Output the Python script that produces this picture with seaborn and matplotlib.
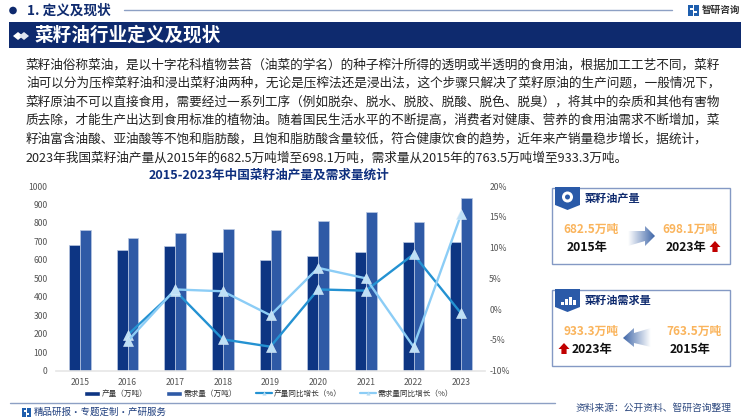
import numpy as np
import pandas as pd
import seaborn as sns
import matplotlib.pyplot as plt
from matplotlib.lines import Line2D
from matplotlib.patches import Circle, Patch, Polygon, Rectangle

# chart data
years = ['2015', '2016', '2017', '2018', '2019', '2020', '2021', '2022', '2023']
production = [682.5, 655, 673, 642, 600, 622, 640, 698, 698.1]
demand = [763.5, 720, 745, 768, 761, 813, 857, 805, 933.3]
production_yoy = [np.nan, -4.2, 3.0, -4.9, -6.1, 3.2, 3.0, 8.9, -0.7]
demand_yoy = [np.nan, -5.2, 3.2, 2.9, -1.0, 6.7, 5.0, -6.1, 15.4]

left_ticks = list(range(0, 1100, 100))
right_ticks = list(range(-10, 25, 5))

body_lines = [
    '菜籽油俗称菜油，是以十字花科植物芸苔（油菜的学名）的种子榨汁所得的透明或半透明的食用油，根据加工工艺不同，菜籽',
    '油可以分为压榨菜籽油和浸出菜籽油两种，无论是压榨法还是浸出法，这个步骤只解决了菜籽原油的生产问题，一般情况下，',
    '菜籽原油不可以直接食用，需要经过一系列工序（例如脱杂、脱水、脱胶、脱酸、脱色、脱臭），将其中的杂质和其他有害物',
    '质去除，才能生产出达到食用标准的植物油。随着国民生活水平的不断提高，消费者对健康、营养的食用油需求不断增加，菜',
    '籽油富含油酸、亚油酸等不饱和脂肪酸，且饱和脂肪酸含量较低，符合健康饮食的趋势，近年来产销量稳步增长，据统计，',
    '2023年我国菜籽油产量从2015年的682.5万吨增至698.1万吨，需求量从2015年的763.5万吨增至933.3万吨。',
]

NAVY = '#0e2a6e'
DARK_BAR = '#0d3583'
LIGHT_BAR = '#2f5aa6'
LINE_PROD = '#2492d2'
LINE_DEMAND = '#8ccdf6'
ORANGE = '#fab45c'
RED = '#c00000'
FRAME = '#8499c4'

sns.set_theme(style='white')
plt.rcParams['font.family'] = ['Noto Sans CJK SC', 'DejaVu Sans']

W, H = 750, 420
fig = plt.figure(figsize=(W / 100, H / 100), dpi=100)

# page overlay in pixel coordinates, everything that is not the chart goes here
page = fig.add_axes([0, 0, 1, 1], zorder=0)
page.set_xlim(0, W)
page.set_ylim(H, 0)
page.axis('off')


def gradient_arrow(points, extent, flip=False):
    # faded arrow: a gradient image clipped to the arrow outline
    shade = np.linspace(0, 1, 64).reshape(1, -1)
    if flip:
        shade = shade[:, ::-1]
    cmap = sns.blend_palette(['#ffffff', '#3f66a8'], as_cmap=True)
    im = page.imshow(shade, extent=extent, cmap=cmap, aspect='auto', zorder=2)
    clip = Polygon(points, closed=True, transform=page.transData, fc='none', ec='none')
    page.add_patch(clip)
    im.set_clip_path(clip)


def logo(x, y, s):
    page.add_patch(Rectangle((x, y), s * 0.45, s, fc='#1f5fae', ec='none'))
    page.add_patch(Rectangle((x + s * 0.55, y), s * 0.45, s, fc='#1f5fae', ec='none'))
    page.add_patch(Rectangle((x + s * 0.18, y + s * 0.25), s * 0.27, s * 0.2, fc='white', ec='none'))
    page.add_patch(Rectangle((x + s * 0.55, y + s * 0.55), s * 0.27, s * 0.2, fc='white', ec='none'))


def badge(x, y):
    page.add_patch(Polygon([(x, y), (x + 25, y), (x + 25, y + 18), (x + 12.5, y + 23), (x, y + 18)],
                           closed=True, fc='#2a5aa8', ec='none', zorder=3))


def red_up(x, y):
    page.add_patch(Polygon([(x, y - 6), (x + 5.5, y), (x + 2.6, y), (x + 2.6, y + 5), (x - 2.6, y + 5), (x - 2.6, y), (x - 5.5, y)],
                           closed=True, fc=RED, ec='none', zorder=3))


# header
page.add_patch(Circle((13, 10.5), 3.8, fc=NAVY, ec='none'))
page.text(27, 11, '1. 定义及现状', fontsize=9.8, fontweight='bold', color=NAVY, va='center')
page.plot([124, 672], [10, 10], color='#8da0c4', lw=1)
logo(688, 5, 11)
page.text(702, 10, '智研咨询', fontsize=6.9, fontweight='bold', color='#333333', va='center')
page.add_patch(Rectangle((9, 22), 732, 26, fc=NAVY, ec='none'))
page.add_patch(Polygon([(13, 36), (18, 32), (23, 36), (18, 40)], closed=True, fc='white', ec='none'))
page.add_patch(Polygon([(19, 36), (24, 32), (29, 36), (24, 40)], closed=True, fc='#dfe5f0', ec='none'))
page.text(35, 35, '菜籽油行业定义及现状', fontsize=13.4, fontweight='bold', color='white', va='center')

# body text
for i, line in enumerate(body_lines):
    page.text(26, 64.7 + i * 18.6, line, fontsize=9.12, color='#222222', va='center')

page.text(268.5, 175, '2015-2023年中国菜籽油产量及需求量统计', fontsize=9.1, fontweight='bold',
          color='#0e2f7e', ha='center', va='center')

# right hand panels
for top in [188, 290]:
    page.add_patch(Rectangle((552, top), 178, 76, fc='white', ec=FRAME, lw=1))
    badge(555, top - 1)
    page.text(585, top + 10, '菜籽油产量' if top == 188 else '菜籽油需求量', fontsize=8, fontweight='bold',
              color=NAVY, va='center')

page.add_patch(Circle((567.5, 197), 5.5, fc='white', ec='none', zorder=4))
page.add_patch(Circle((567.5, 197), 2.5, fc='#2a5aa8', ec='none', zorder=5))
for bx, bh in [(561, 3), (565, 6), (569, 8), (573, 5)]:
    page.add_patch(Rectangle((bx, 305 - bh), 2.6, bh, fc='white', ec='none', zorder=4))

big = dict(fontsize=8.5, color=ORANGE, fontweight='bold', ha='center', va='center')
year_txt = dict(fontsize=8.8, color='#111111', fontweight='bold', ha='center', va='center')
page.text(591, 229, '682.5万吨', **big)
page.text(690, 229, '698.1万吨', **big)
page.text(587, 247, '2015年', **year_txt)
page.text(686, 247, '2023年', **year_txt)
page.text(591, 331, '933.3万吨', **big)
page.text(694, 331, '763.5万吨', **big)
page.text(592, 349, '2023年', **year_txt)
page.text(690, 349, '2015年', **year_txt)
red_up(715, 247)
red_up(564, 349)

gradient_arrow([(628, 231), (645, 231), (645, 226), (655, 236), (645, 246), (645, 241), (628, 246)],
               (628, 655, 246, 226))
gradient_arrow([(651, 328), (634, 333), (634, 328), (623, 338), (634, 347), (634, 343), (651, 347)],
               (623, 651, 347, 328), flip=True)
page.set_xlim(0, W)
page.set_ylim(H, 0)

# footer
page.plot([10, 555], [402.5, 402.5], color='#8da0c4', lw=1)
logo(22, 408, 9)
page.text(34, 412.5, '精品研报·专题定制·产研服务', fontsize=6.8, color='#1f3f7f', va='center')
page.text(576, 408, '资料来源：公开资料、智研咨询整理', fontsize=7, color='#2f4a80', va='center')

# main chart
ax = fig.add_axes([56 / W, 1 - 370.7 / H, (485 - 56) / W, (370.7 - 186) / H], zorder=1)
ax.patch.set_alpha(0)

bars = pd.DataFrame({
    'year': years * 2,
    'value': production + demand,
    'series': ['产量（万吨）'] * len(years) + ['需求量（万吨）'] * len(years),
})
sns.barplot(data=bars, x='year', y='value', hue='series', palette=[DARK_BAR, LIGHT_BAR], width=0.46,
            saturation=1, errorbar=None, legend=False, edgecolor='#b9c8e2', linewidth=0.5, ax=ax)
ax.set_ylim(0, 1000)
ax.set_yticks(left_ticks)
ax.set_xlabel('')
ax.set_ylabel('')
ax.tick_params(axis='x', labelsize=6.2, colors='#555555', length=0, pad=5)
ax.tick_params(axis='y', labelsize=6.2, colors='#555555', length=0, pad=6)
sns.despine(ax=ax, left=True, right=True, top=True)
ax.spines['bottom'].set_color('#e6e6e6')
ax.spines['bottom'].set_linewidth(1.2)

ax2 = ax.twinx()
ax2.patch.set_alpha(0)
sns.lineplot(x=years, y=production_yoy, sort=False, color=LINE_PROD, lw=1.7, marker='^', markersize=6.5,
             markerfacecolor='#bfe0f6', markeredgecolor='#dcedf9', markeredgewidth=0.4, ax=ax2)
sns.lineplot(x=years, y=demand_yoy, sort=False, color=LINE_DEMAND, lw=1.7, marker='^', markersize=6.5,
             markerfacecolor='#bfe0f6', markeredgecolor='#dcedf9', markeredgewidth=0.4, ax=ax2)
ax2.set_ylim(-10, 20)
ax2.set_xlim(-0.5, len(years) - 0.5)
ax2.set_yticks(right_ticks)
ax2.set_yticklabels([f'{t}%' for t in right_ticks])
ax2.set_ylabel('')
ax2.tick_params(axis='y', labelsize=6.2, colors='#555555', length=0, pad=3)
sns.despine(ax=ax2, left=True, right=True, top=True, bottom=True)

handles = [
    Patch(fc=DARK_BAR, label='产量（万吨）'),
    Patch(fc=LIGHT_BAR, label='需求量（万吨）'),
    Line2D([], [], color=LINE_PROD, lw=1.6, marker='^', ms=3, mfc='#b5dcf4', mec='none', label='产量同比增长（%）'),
    Line2D([], [], color=LINE_DEMAND, lw=1.6, marker='^', ms=3, mfc='#b5dcf4', mec='none', label='需求量同比增长（%）'),
]
fig.legend(handles=handles, loc='center', bbox_to_anchor=(268.5 / W, 1 - 394 / H), ncol=4, frameon=False,
           fontsize=5.5, labelcolor='#333333', handlelength=2.1, handleheight=0.6, columnspacing=2.4,
           handletextpad=0.25, borderpad=0)

fig.savefig('out.png', dpi=100)
